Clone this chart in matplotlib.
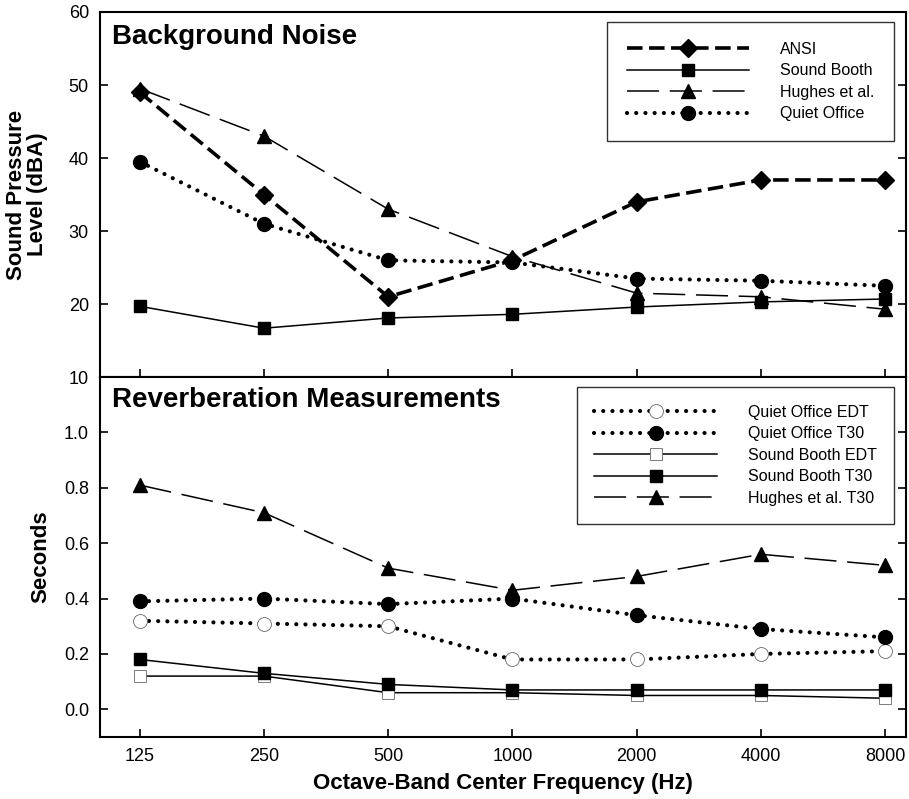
import numpy as np
import matplotlib.pyplot as plt

plt.rcParams['font.family'] = ['Liberation Sans', 'DejaVu Sans']

# 옥타브 밴드 중심 주파수
freqs = [125, 250, 500, 1000, 2000, 4000, 8000]
freq_labels = ['125', '250', '500', '1000', '2000', '4000', '8000']

# 배경 소음 (dBA)
ansi = [49, 35, 21, 26, 34, 37, 37]
booth_spl = [19.7, 16.7, 18.1, 18.6, 19.6, 20.3, 20.7]
hughes_spl = [49.5, 43, 33, 26.5, 21.5, 21, 19.3]
office_spl = [39.5, 31, 26, 25.7, 23.5, 23.2, 22.5]

# 잔향 측정 (초)
office_edt = [0.32, 0.31, 0.30, 0.18, 0.18, 0.20, 0.21]
office_t30 = [0.39, 0.40, 0.38, 0.40, 0.34, 0.29, 0.26]
booth_edt = [0.12, 0.12, 0.06, 0.06, 0.05, 0.05, 0.04]
booth_t30 = [0.18, 0.13, 0.09, 0.07, 0.07, 0.07, 0.07]
hughes_t30 = [0.81, 0.71, 0.51, 0.43, 0.48, 0.56, 0.52]

x = np.log2(np.array(freqs) / 125.0)

fig = plt.figure(figsize=(9.09, 7.99), dpi=100)
ax1 = fig.add_axes([0.110, 0.528, 0.887, 0.457])
ax2 = fig.add_axes([0.110, 0.0776, 0.887, 0.4504])

k = 'black'
dot = dict(lw=3.0, linestyle=(0, (0.01, 2.2)), dash_capstyle='round')
ansi_ls = dict(lw=2.6, dashes=(4.3, 1.8))
hug_ls = dict(lw=1.1, dashes=(21, 7))
sol_ls = dict(lw=1.1)

ax1.plot(x, ansi, color=k, marker='D', ms=9.5, label='ANSI', **ansi_ls)
ax1.plot(x, booth_spl, color=k, marker='s', ms=9, label='Sound Booth', **sol_ls)
ax1.plot(x, hughes_spl, color=k, marker='^', ms=10, label='Hughes et al.', **hug_ls)
ax1.plot(x, office_spl, color=k, marker='o', ms=10, label='Quiet Office', **dot)

ax2.plot(x, office_edt, color=k, marker='o', ms=10, mfc='white', mec='#666666', mew=0.6,
         label='Quiet Office EDT', **dot)
ax2.plot(x, office_t30, color=k, marker='o', ms=10, label='Quiet Office T30', **dot)
ax2.plot(x, booth_edt, color=k, marker='s', ms=9, mfc='white', mec='#666666', mew=0.6,
         label='Sound Booth EDT', **sol_ls)
ax2.plot(x, booth_t30, color=k, marker='s', ms=9, label='Sound Booth T30', **sol_ls)
ax2.plot(x, hughes_t30, color=k, marker='^', ms=10, label='Hughes et al. T30', **hug_ls)

for ax in (ax1, ax2):
    ax.set_xlim(-0.32, 6.17)
    ax.set_xticks(x)
    ax.tick_params(direction='in', length=6, width=1.2, labelsize=13, right=True, pad=8)
    for s in ax.spines.values():
        s.set_linewidth(1.5)

narrow = ['Liberation Sans Narrow', 'Liberation Sans', 'DejaVu Sans']

ax1.set_ylim(10, 60)
ax1.set_yticks([10, 20, 30, 40, 50, 60])
ax1.tick_params(axis='x', labelbottom=False)
ax1.set_ylabel('Sound Pressure\nLevel (dBA)', fontsize=16, fontweight='bold',
               family=narrow, linespacing=1.05)
ax1.yaxis.set_label_coords(-0.064, 0.5)
ax1.text(0.015, 0.968, 'Background Noise', transform=ax1.transAxes, fontsize=20,
         fontweight='bold', va='top')

ax2.set_ylim(-0.1, 1.2)
ax2.set_yticks([0.0, 0.2, 0.4, 0.6, 0.8, 1.0])
ax2.set_yticklabels(['0.0', '0.2', '0.4', '0.6', '0.8', '1.0'])
ax2.set_xticklabels(freq_labels)
ax2.set_ylabel('Seconds', fontsize=16, fontweight='bold', family=narrow)
ax2.yaxis.set_label_coords(-0.06, 0.5)
ax2.set_xlabel('Octave-Band Center Frequency (Hz)', fontsize=16, fontweight='bold', labelpad=6)
ax2.text(0.015, 0.972, 'Reverberation Measurements', transform=ax2.transAxes, fontsize=20,
         fontweight='bold', va='top')

leg_kw = dict(fontsize=11.5, fancybox=False, edgecolor=k, handlelength=7.7,
              handletextpad=1.9, labelspacing=0.41, borderaxespad=0)
leg1 = ax1.legend(loc='upper right', bbox_to_anchor=(0.985, 0.973), borderpad=1.25, **leg_kw)
leg1.get_frame().set_linewidth(1.0)
leg2 = ax2.legend(loc='upper right', bbox_to_anchor=(0.985, 0.972), borderpad=1.1, **leg_kw)
leg2.get_frame().set_linewidth(1.0)

fig.savefig('out.png', dpi=100)
